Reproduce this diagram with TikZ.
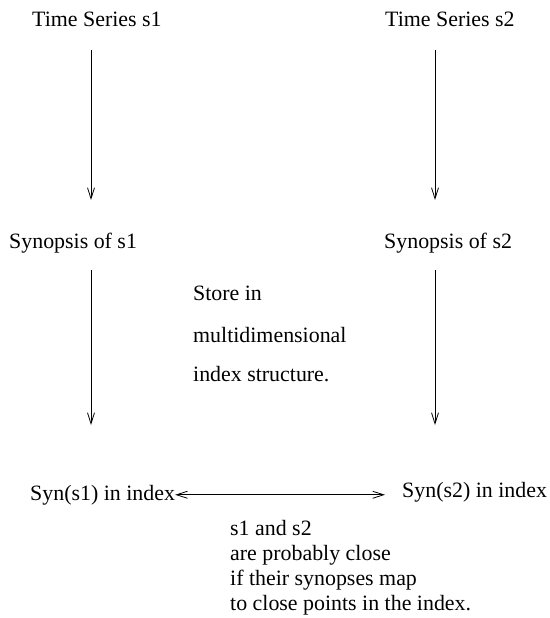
\documentclass[tikz,border=0pt]{standalone}
\usepackage{fontspec}
\setmainfont{Liberation Serif}
\usetikzlibrary{arrows.meta}
\begin{document}
\begin{tikzpicture}[x=1pt,y=-1pt,
  lbl/.style={inner sep=0pt,anchor=base west,font=\fontsize{21.9}{25}\selectfont},
  arr/.style={line width=0.6pt,-{Straight Barb[length=11pt,width=7pt,line width=0.8pt]}},
  darr/.style={line width=0.6pt,{Straight Barb[length=11pt,width=7pt,line width=0.8pt]}-{Straight Barb[length=11pt,width=7pt,line width=0.8pt]}}]
\useasboundingbox (0,0) rectangle (549,618);
\node[lbl] (ts1) at (32,27) {Time Series s1};
\node[lbl] (ts2) at (385,27) {Time Series s2};
\node[lbl] (syn1) at (9,248) {Synopsis of s1};
\node[lbl] (syn2) at (384,248) {Synopsis of s2};
\node[lbl] (st1) at (193,300) {Store in};
\node[lbl] (st2) at (193,342) {multidimensional};
\node[lbl] (st3) at (193,381) {index structure.};
\node[lbl] (idx1) at (30,500) {Syn(s1) in index};
\node[lbl] (idx2) at (402,497) {Syn(s2) in index};
\node[lbl] (n1) at (230,535) {s1 and s2};
\node[lbl] (n2) at (230,560) {are probably close};
\node[lbl] (n3) at (230,585) {if their synopses map};
\node[lbl] (n4) at (230,610) {to close points in the index.};
\coordinate (a1s) at (91,50);
\coordinate (a1e) at (91,200);
\coordinate (a2s) at (435,50);
\coordinate (a2e) at (435,200);
\coordinate (b1s) at (91,270);
\coordinate (b1e) at (91,425);
\coordinate (b2s) at (435,270);
\coordinate (b2e) at (435,425);
\draw[arr] (a1s) -- (a1e);
\draw[arr] (a2s) -- (a2e);
\draw[arr] (b1s) -- (b1e);
\draw[arr] (b2s) -- (b2e);
\draw[darr,shorten >=17pt] (idx1.east) -- (idx1.east -| idx2.west);
\end{tikzpicture}
\end{document}
